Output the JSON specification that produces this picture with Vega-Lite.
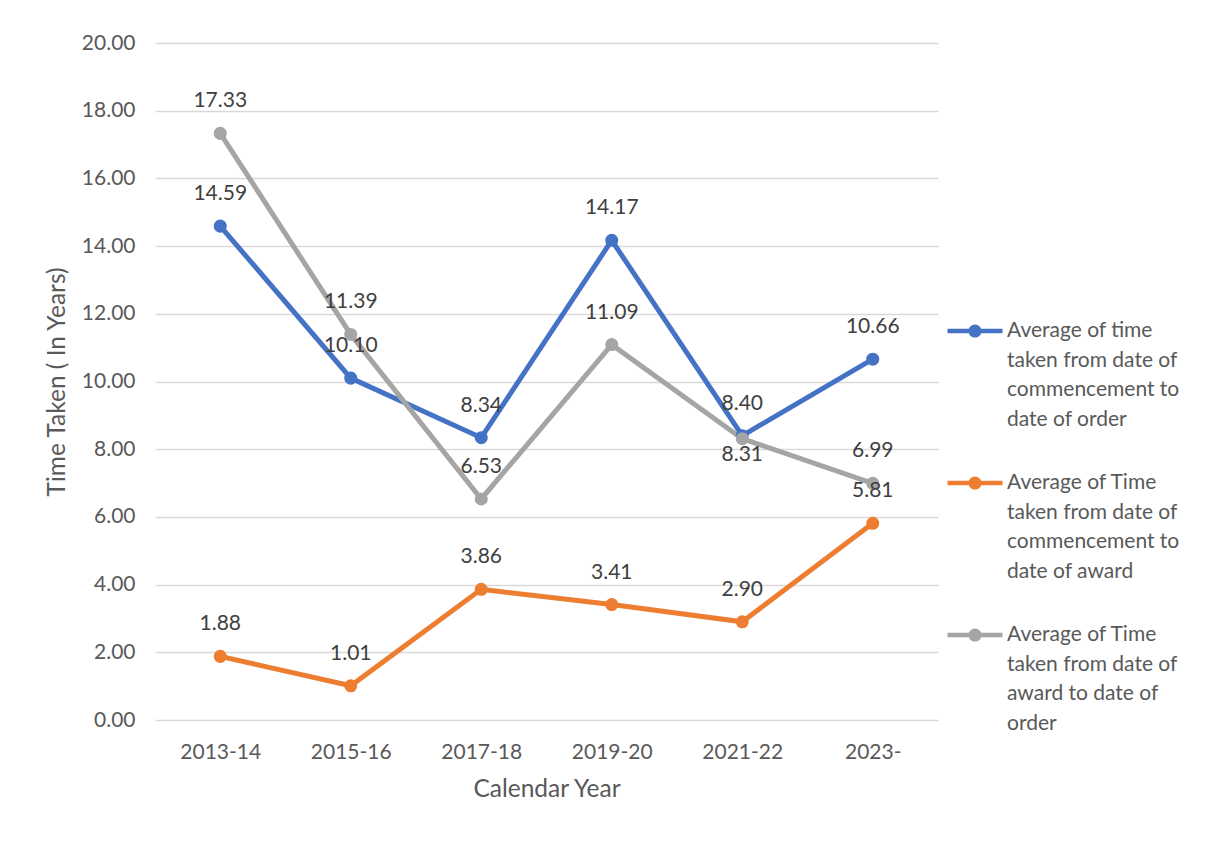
{
  "$schema": "https://vega.github.io/schema/vega-lite/v6.json",
  "width": 783,
  "height": 677,
  "autosize": "none",
  "padding": {"left": 155, "top": 43, "right": 267, "bottom": 143},
  "background": "white",
  "config": {
    "font": "Lato",
    "view": {"stroke": null},
    "axis": {"labelColor": "#595959", "titleColor": "#595959", "labelFontSize": 21, "titleFontSize": 24.5, "titleFontWeight": "normal", "labelFont": "Lato", "titleFont": "Lato"},
    "legend": {"labelColor": "#595959", "labelFontSize": 21, "labelFont": "Lato"}
  },
  "data": {
    "values": [
      {"year": "2013-14", "series": "Average of time taken from date of commencement to date of order", "value": 14.59},
      {"year": "2015-16", "series": "Average of time taken from date of commencement to date of order", "value": 10.10},
      {"year": "2017-18", "series": "Average of time taken from date of commencement to date of order", "value": 8.34},
      {"year": "2019-20", "series": "Average of time taken from date of commencement to date of order", "value": 14.17},
      {"year": "2021-22", "series": "Average of time taken from date of commencement to date of order", "value": 8.40},
      {"year": "2023-", "series": "Average of time taken from date of commencement to date of order", "value": 10.66},
      {"year": "2013-14", "series": "Average of Time taken from date of commencement to date of award", "value": 1.88},
      {"year": "2015-16", "series": "Average of Time taken from date of commencement to date of award", "value": 1.01},
      {"year": "2017-18", "series": "Average of Time taken from date of commencement to date of award", "value": 3.86},
      {"year": "2019-20", "series": "Average of Time taken from date of commencement to date of award", "value": 3.41},
      {"year": "2021-22", "series": "Average of Time taken from date of commencement to date of award", "value": 2.90},
      {"year": "2023-", "series": "Average of Time taken from date of commencement to date of award", "value": 5.81},
      {"year": "2013-14", "series": "Average of Time taken from date of award to date of order", "value": 17.33},
      {"year": "2015-16", "series": "Average of Time taken from date of award to date of order", "value": 11.39},
      {"year": "2017-18", "series": "Average of Time taken from date of award to date of order", "value": 6.53},
      {"year": "2019-20", "series": "Average of Time taken from date of award to date of order", "value": 11.09},
      {"year": "2021-22", "series": "Average of Time taken from date of award to date of order", "value": 8.31},
      {"year": "2023-", "series": "Average of Time taken from date of award to date of order", "value": 6.99}
    ]
  },
  "encoding": {
    "x": {
      "field": "year", "type": "ordinal", "sort": null,
      "scale": {"type": "point", "padding": 0.5},
      "axis": {"title": "Calendar Year", "labelAngle": 0, "domain": false, "ticks": false, "grid": false, "labelPadding": 21, "titlePadding": 15}
    },
    "y": {
      "field": "value", "type": "quantitative",
      "scale": {"domain": [0, 20], "nice": false, "zero": true},
      "axis": {"title": "Time Taken ( In Years)", "values": [0, 2, 4, 6, 8, 10, 12, 14, 16, 18, 20], "format": ".2f", "domain": false, "ticks": false, "grid": true, "gridColor": "#D9D9D9", "gridWidth": 1.3, "labelPadding": 20, "titlePadding": 12}
    },
    "color": {
      "field": "series", "type": "nominal", "sort": null,
      "scale": {
        "domain": ["Average of time taken from date of commencement to date of order", "Average of Time taken from date of commencement to date of award", "Average of Time taken from date of award to date of order"],
        "range": ["#4472C4", "#ED7D31", "#A5A5A5"]
      },
      "legend": {
        "title": null,
        "orient": "none",
        "legendX": 809,
        "legendY": 277,
        "symbolType": "M-2.5,-0.2 H2.5 V0.2 H-2.5 Z M0.6,0 A0.6,0.6 0 1,1 -0.6,0 A0.6,0.6 0 1,1 0.6,0 Z",
        "symbolSize": 484,
        "symbolStrokeWidth": 0,
        "symbolOpacity": 1,
        "labelOffset": 21,
        "labelLimit": 400,
        "rowPadding": 42,
        "labelExpr": "datum.label == 'Average of time taken from date of commencement to date of order' ? ['Average of time', 'taken from date of', 'commencement to', 'date of order'] : datum.label == 'Average of Time taken from date of commencement to date of award' ? ['Average of Time', 'taken from date of', 'commencement to', 'date of award'] : ['Average of Time', 'taken from date of', 'award to date of', 'order']",
        "encode": {
          "labels": {"update": {"lineHeight": {"value": 29.5}}},
          "symbols": {"update": {"fill": {"scale": "color", "field": "value"}, "strokeWidth": {"value": 0}}}
        }
      }
    }
  },
  "layer": [
    {
      "mark": {"type": "line", "strokeWidth": 5}
    },
    {
      "mark": {"type": "point", "filled": true, "size": 170, "opacity": 1}
    },
    {
      "transform": [{"filter": "!(datum.year == '2021-22' && datum.value == 8.31)"}],
      "mark": {"type": "text", "dy": -32, "fontSize": 21, "color": "#404040", "font": "Lato"},
      "encoding": {"text": {"field": "value", "type": "quantitative", "format": ".2f"}, "color": {"value": "#404040"}}
    },
    {
      "transform": [{"filter": "datum.year == '2021-22' && datum.value == 8.31"}],
      "mark": {"type": "text", "dy": 16, "fontSize": 21, "color": "#404040", "font": "Lato"},
      "encoding": {"text": {"field": "value", "type": "quantitative", "format": ".2f"}, "color": {"value": "#404040"}}
    }
  ]
}
